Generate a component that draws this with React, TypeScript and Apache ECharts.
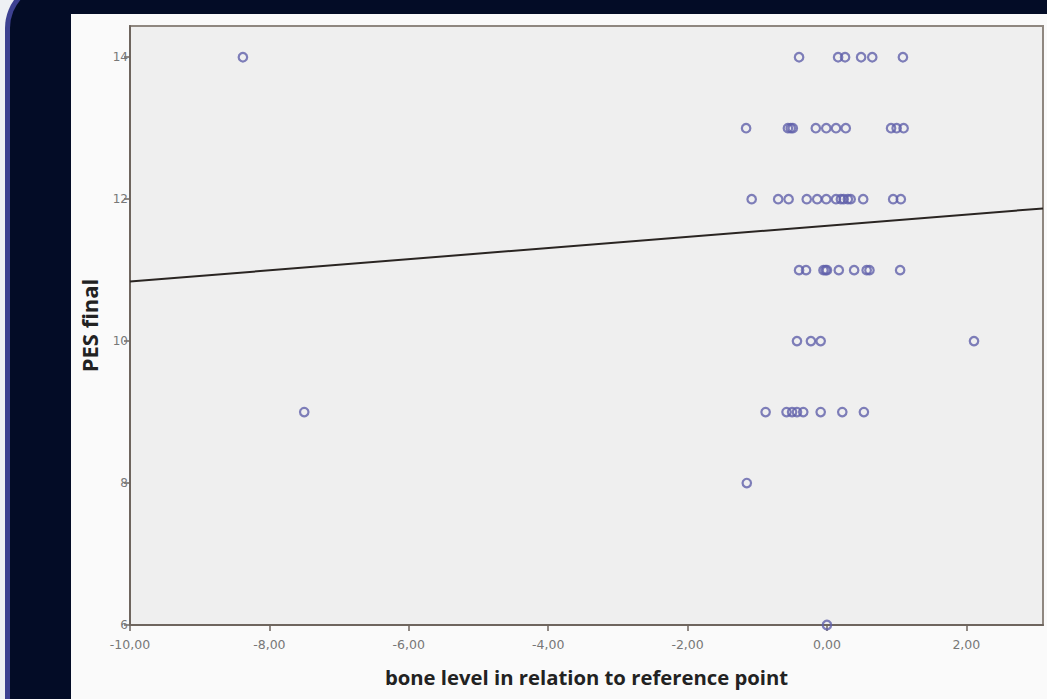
import React, { useEffect, useRef } from "react";
import * as echarts from "echarts";

// Bone level (x) and PES final (y)
const boneLevel: number[] = [
  -8.38, -0.40, 0.16, 0.26, 0.49, 0.65, 1.09,
  -1.16, -0.56, -0.52, -0.49, -0.16, -0.01, 0.13, 0.27, 0.92, 1.0, 1.1,
  -1.08, -0.70, -0.55, -0.29, -0.14, -0.01, 0.13, 0.2, 0.24, 0.3, 0.34, 0.52, 0.95, 1.06,
  -0.40, -0.30, -0.05, -0.02, 0.0, 0.17, 0.39, 0.57, 0.61, 1.05,
  -0.43, -0.23, -0.09, 2.11,
  -7.50, -0.88, -0.58, -0.50, -0.43, -0.34, -0.09, 0.22, 0.53,
  -1.15,
  0.0,
];
const pesFinal: number[] = [
  14, 14, 14, 14, 14, 14, 14,
  13, 13, 13, 13, 13, 13, 13, 13, 13, 13, 13,
  12, 12, 12, 12, 12, 12, 12, 12, 12, 12, 12, 12, 12, 12,
  11, 11, 11, 11, 11, 11, 11, 11, 11, 11,
  10, 10, 10, 10,
  9, 9, 9, 9, 9, 9, 9, 9, 9,
  8,
  6,
];
// Fit line end points
const fitX: number[] = [-10, 3.1];
const fitY: number[] = [10.84, 11.87];

const xTicks = { min: -10, max: 3.1, interval: 2 };
const yTicks = { min: 6, max: 14.44, interval: 2 };

export default function App() {
  const ref = useRef<HTMLDivElement>(null);
  useEffect(() => {
    if (!ref.current) return;
    const chart = echarts.init(ref.current, null, { renderer: "svg" });
    const W = 1047, H = 699;
    chart.setOption({
      animation: false,
      backgroundColor: "#eef0f4",
      graphic: [
        { type: "rect", z: -10, silent: true, shape: { x: 5, y: -20, width: W + 40, height: H + 60, r: [48, 0, 0, 0] }, style: { fill: "#3d4191" } },
        { type: "rect", z: -9, silent: true, shape: { x: 10, y: -15, width: W + 40, height: H + 60, r: [43, 0, 0, 0] }, style: { fill: "#030c26" } },
        { type: "rect", z: -8, silent: true, shape: { x: 71, y: 14, width: W - 71, height: H - 14 }, style: { fill: "#fafafa" } },
      ],
      grid: {
        left: 130, top: 26, right: 4, bottom: 74,
        show: true, backgroundColor: "#efefef", borderColor: "#8f8780", borderWidth: 2,
      },
      xAxis: {
        type: "value", min: xTicks.min, max: xTicks.max, interval: xTicks.interval,
        splitLine: { show: false },
        axisLine: { show: true, onZero: false, lineStyle: { color: "#6e655e", width: 2 } },
        axisTick: { show: true, inside: false, length: 6, lineStyle: { color: "#6e655e", width: 1.5 } },
        axisLabel: {
          showMaxLabel: false, color: "#777", fontSize: 12.5, fontFamily: "DejaVu Sans", margin: 13,
          formatter: (v: number) => v.toFixed(2).replace(".", ","),
        },
        name: "bone level in relation to reference point",
        nameLocation: "middle", nameGap: 42,
        nameTextStyle: { color: "#222", fontSize: 20.3, fontWeight: "bold", fontFamily: "Open Sans" },
      },
      yAxis: {
        type: "value", min: yTicks.min, max: yTicks.max, interval: yTicks.interval,
        splitLine: { show: false },
        axisLine: { show: true, onZero: false, lineStyle: { color: "#6e655e", width: 2 } },
        axisTick: { show: true, inside: false, length: 6, lineStyle: { color: "#6e655e", width: 1.5 } },
        axisLabel: { showMaxLabel: false, color: "#777", fontSize: 12, fontFamily: "DejaVu Sans", margin: 2 },
        name: "PES final",
        nameLocation: "middle", nameGap: 30,
        nameTextStyle: { color: "#222", fontSize: 22, fontWeight: "bold", fontFamily: "Open Sans" },
      },
      series: [
        {
          type: "line",
          data: fitX.map((x, i) => [x, fitY[i]]),
          symbol: "none",
          lineStyle: { color: "#2a2522", width: 2 },
          z: 3,
        },
        {
          type: "scatter",
          data: boneLevel.map((x, i) => [x, pesFinal[i]]),
          symbol: "circle",
          symbolSize: 8.5,
          clip: false,
          itemStyle: { color: "rgba(0,0,0,0)", borderColor: "#6060aa", borderWidth: 2.2 },
          z: 4,
        },
      ],
    });
    return () => chart.dispose();
  }, []);
  return (
    <div style={{ position: "fixed", left: 0, top: 0, width: 1047, height: 699 }}>
      <div ref={ref} style={{ width: 1047, height: 699 }} />
    </div>
  );
}
